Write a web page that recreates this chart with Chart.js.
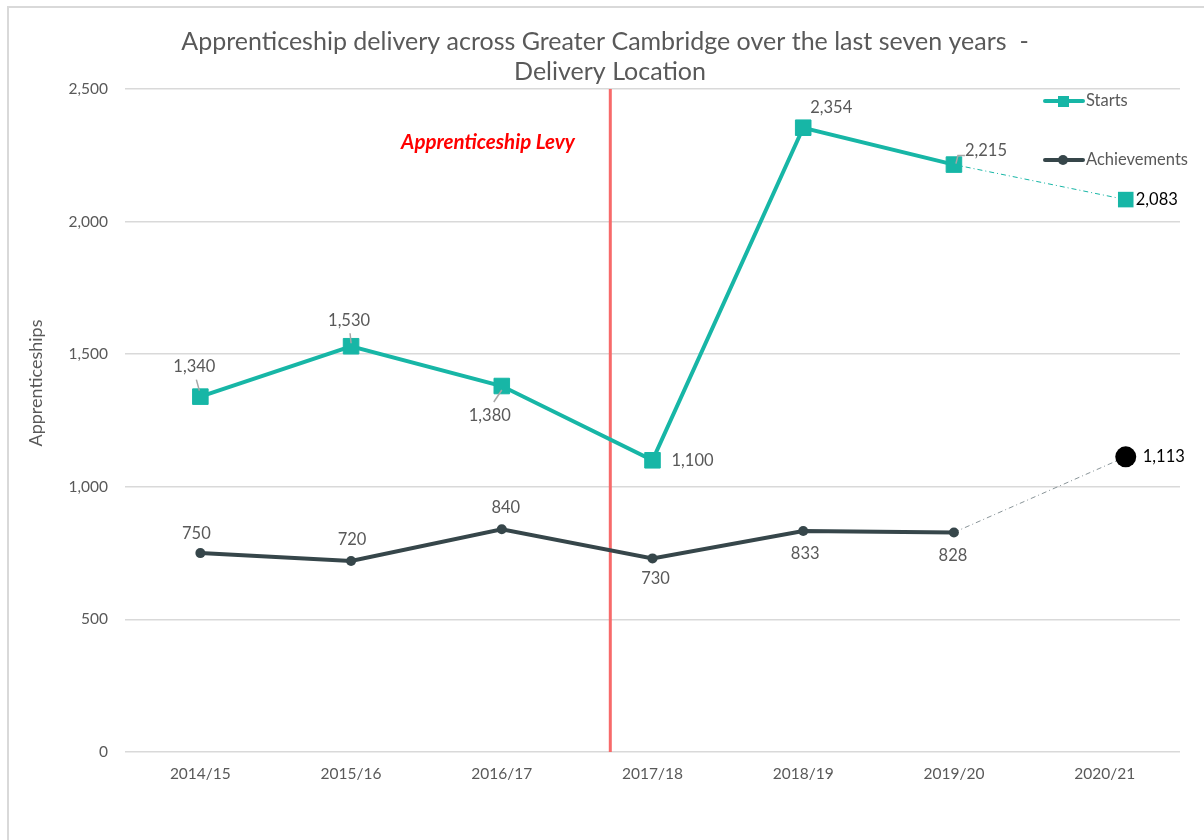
<!DOCTYPE html>
<html>
<head>
<meta charset="utf-8">
<script src="https://cdn.jsdelivr.net/npm/chart.js@4.4.1/dist/chart.umd.min.js"></script>
<style>
  html, body { margin: 0; padding: 0; background: #ffffff; }
  #wrap { position: relative; width: 1204px; height: 840px; }
</style>
</head>
<body>
<div id="wrap"><canvas id="c" width="1204" height="840"></canvas></div>
<script>
// ---- Data ----
const categories = ['2014/15', '2015/16', '2016/17', '2017/18', '2018/19', '2019/20', '2020/21'];
const startsValues = [1340, 1530, 1380, 1100, 2354, 2215];
const achievementsValues = [750, 720, 840, 730, 833, 828];
const startsForecast = 2083;
const achievementsForecast = 1113;
const yTicks = [0, 500, 1000, 1500, 2000, 2500];
const titleLines = ['Apprenticeship delivery across Greater Cambridge over the last seven years  -', 'Delivery Location'];
const levyLabel = 'Apprenticeship Levy';
const seriesNames = ['Starts', 'Achievements'];

// ---- Styles ----
const FONT = 'Lato, "Open Sans", sans-serif';
const TEAL = '#17b6a6';
const DARK = '#36464a';
const GREY_TEXT = '#595959';
const GRID = '#d9d9d9';
const LEVY_POS = 2.72;       // between 2016/17 and 2017/18
const FORECAST_SHIFT = 0.14; // last points drawn slightly right of category centre

const fmt = v => v.toLocaleString('en-US');

const startsPts = startsValues.map((v, i) => ({ x: i, y: v }));
const achPts = achievementsValues.map((v, i) => ({ x: i, y: v }));
const lastIdx = categories.length - 1;
const startsFc = [{ x: startsValues.length - 1, y: startsValues[startsValues.length - 1] }, { x: lastIdx + FORECAST_SHIFT, y: startsForecast }];
const achFc = [{ x: achievementsValues.length - 1, y: achievementsValues[achievementsValues.length - 1] }, { x: lastIdx + FORECAST_SHIFT, y: achievementsForecast }];
const levyLine = [{ x: LEVY_POS, y: yTicks[0] }, { x: LEVY_POS, y: yTicks[yTicks.length - 1] }];

// label placement styles: [dx, dy, align, leader]
const startsLabelStyle = [
  [-6, -30, 'center', [[-4, -17], [-1, -6]]],
  [-2, -26, 'center', [[-1, -13], [0, -3]]],
  [-12, 30, 'center', [[-8, 16], [0, 4]]],
  [19, 0, 'left', null],
  [28, -20, 'center', null],
  [11, -14, 'left', [[2, -1], [4, -9], [11, -9]]]
];
const achLabelStyle = [
  [-4, -19, 'center', null],
  [1, -21, 'center', null],
  [4, -22, 'center', null],
  [3, 20, 'center', null],
  [2, 23, 'center', null],
  [-1, 23, 'center', null]
];

const decorPlugin = {
  id: 'decor',
  beforeDraw(chart) {
    const ctx = chart.ctx;
    ctx.save();
    ctx.fillStyle = '#ffffff';
    ctx.fillRect(0, 0, chart.width, chart.height);
    ctx.strokeStyle = GRID;
    ctx.lineWidth = 2;
    ctx.beginPath();
    ctx.moveTo(8, chart.height);
    ctx.lineTo(8, 7);
    ctx.lineTo(chart.width, 7);
    ctx.stroke();
    ctx.restore();
  },
  afterDatasetsDraw(chart) {
    const ctx = chart.ctx;
    const xs = chart.scales.x, ys = chart.scales.y;
    ctx.save();
    // Title
    ctx.fillStyle = GREY_TEXT;
    ctx.font = '25px ' + FONT;
    ctx.textAlign = 'center';
    ctx.textBaseline = 'middle';
    ctx.fillText(titleLines[0], 605, 42);
    ctx.fillText(titleLines[1], 610, 72);

    // Y axis title
    ctx.save();
    ctx.translate(36, 383);
    ctx.rotate(-Math.PI / 2);
    ctx.font = '18px ' + FONT;
    ctx.fillText('Apprenticeships', 0, 0);
    ctx.restore();

    // Levy label
    ctx.fillStyle = '#ff0000';
    ctx.font = 'italic bold 20.5px ' + FONT;
    ctx.fillText(levyLabel, 488, 142);

    // Data labels
    ctx.font = '16.5px ' + FONT;
    const drawLabels = (vals, styles) => {
      vals.forEach((v, i) => {
        const px = xs.getPixelForValue(i), py = ys.getPixelForValue(v);
        const [dx, dy, al, leader] = styles[i];
        if (leader) {
          ctx.strokeStyle = '#a6a6a6';
          ctx.lineWidth = 1.5;
          ctx.beginPath();
          leader.forEach((p, k) => { k === 0 ? ctx.moveTo(px + p[0], py + p[1]) : ctx.lineTo(px + p[0], py + p[1]); });
          ctx.stroke();
        }
        ctx.fillStyle = GREY_TEXT;
        ctx.textAlign = al;
        ctx.fillText(fmt(v), px + dx, py + dy);
      });
    };
    drawLabels(startsValues, startsLabelStyle);
    drawLabels(achievementsValues, achLabelStyle);

    // Forecast labels
    ctx.fillStyle = '#000000';
    ctx.textAlign = 'left';
    const fx = xs.getPixelForValue(lastIdx + FORECAST_SHIFT);
    ctx.fillText(fmt(startsForecast), fx + 10, ys.getPixelForValue(startsForecast));
    ctx.fillText(fmt(achievementsForecast), fx + 17, ys.getPixelForValue(achievementsForecast));

    // Legend
    ctx.font = '16.5px ' + FONT;
    const legend = [[seriesNames[0], TEAL, 'rect', 101], [seriesNames[1], DARK, 'circle', 160]];
    legend.forEach(([name, col, shape, y]) => {
      ctx.strokeStyle = col;
      ctx.lineWidth = 4;
      ctx.lineCap = 'round';
      ctx.beginPath();
      ctx.moveTo(1045, y);
      ctx.lineTo(1083, y);
      ctx.stroke();
      ctx.fillStyle = col;
      if (shape === 'rect') ctx.fillRect(1058, y - 5, 11, 11);
      else { ctx.beginPath(); ctx.arc(1063, y, 5, 0, Math.PI * 2); ctx.fill(); }
      ctx.fillStyle = GREY_TEXT;
      ctx.textAlign = 'left';
      ctx.fillText(name, 1086, y);
    });
    ctx.restore();
  }
};

new Chart(document.getElementById('c'), {
  type: 'line',
  data: {
    datasets: [
      {
        label: 'Levy', data: levyLine, borderColor: '#f76a6a', borderWidth: 3,
        pointRadius: 0, order: 5
      },
      {
        label: seriesNames[0] + ' forecast', data: startsFc, borderColor: TEAL, borderWidth: 1,
        borderDash: [5, 3, 1, 3], pointRadius: [0, 11], pointStyle: 'rect',
        pointBackgroundColor: TEAL, pointBorderColor: TEAL, pointBorderWidth: 0, order: 3
      },
      {
        label: seriesNames[1] + ' forecast', data: achFc, borderColor: '#8a9599', borderWidth: 1,
        borderDash: [5, 3, 1, 3], pointRadius: [0, 10.5], pointStyle: 'circle',
        pointBackgroundColor: '#000000', pointBorderColor: '#000000', pointBorderWidth: 0, order: 4
      },
      {
        label: seriesNames[0], data: startsPts, borderColor: TEAL, borderWidth: 4,
        pointStyle: 'rect', pointRadius: 11, pointBackgroundColor: TEAL, pointBorderColor: TEAL,
        pointBorderWidth: 1, tension: 0, order: 1
      },
      {
        label: seriesNames[1], data: achPts, borderColor: DARK, borderWidth: 4,
        pointStyle: 'circle', pointRadius: 5, pointBackgroundColor: DARK, pointBorderColor: DARK,
        pointBorderWidth: 0, tension: 0, order: 2
      }
    ]
  },
  options: {
    responsive: false,
    animation: false,
    layout: { padding: { top: 89, right: 24, left: 0, bottom: 0 } },
    plugins: { legend: { display: false }, tooltip: { enabled: false }, title: { display: false } },
    scales: {
      x: {
        type: 'linear', min: -0.5, max: lastIdx + 0.5,
        afterBuildTicks: s => { s.ticks = categories.map((c, i) => ({ value: i })); },
        afterFit: s => { s.height = 88; },
        grid: { display: false, drawTicks: false },
        border: { display: false },
        ticks: {
          callback: v => categories[v] ?? '', padding: 13, color: GREY_TEXT,
          font: { family: FONT, size: 15.5 }, maxRotation: 0, autoSkip: false
        }
      },
      y: {
        min: yTicks[0], max: yTicks[yTicks.length - 1],
        afterBuildTicks: s => { s.ticks = yTicks.map(v => ({ value: v })); },
        afterFit: s => { s.width = 125; },
        grid: { color: GRID, lineWidth: 1.5, drawTicks: false },
        border: { display: false },
        ticks: { callback: v => fmt(v), padding: 17, color: GREY_TEXT, font: { family: FONT, size: 15.5 } }
      }
    }
  },
  plugins: [decorPlugin]
});
</script>
</body>
</html>
